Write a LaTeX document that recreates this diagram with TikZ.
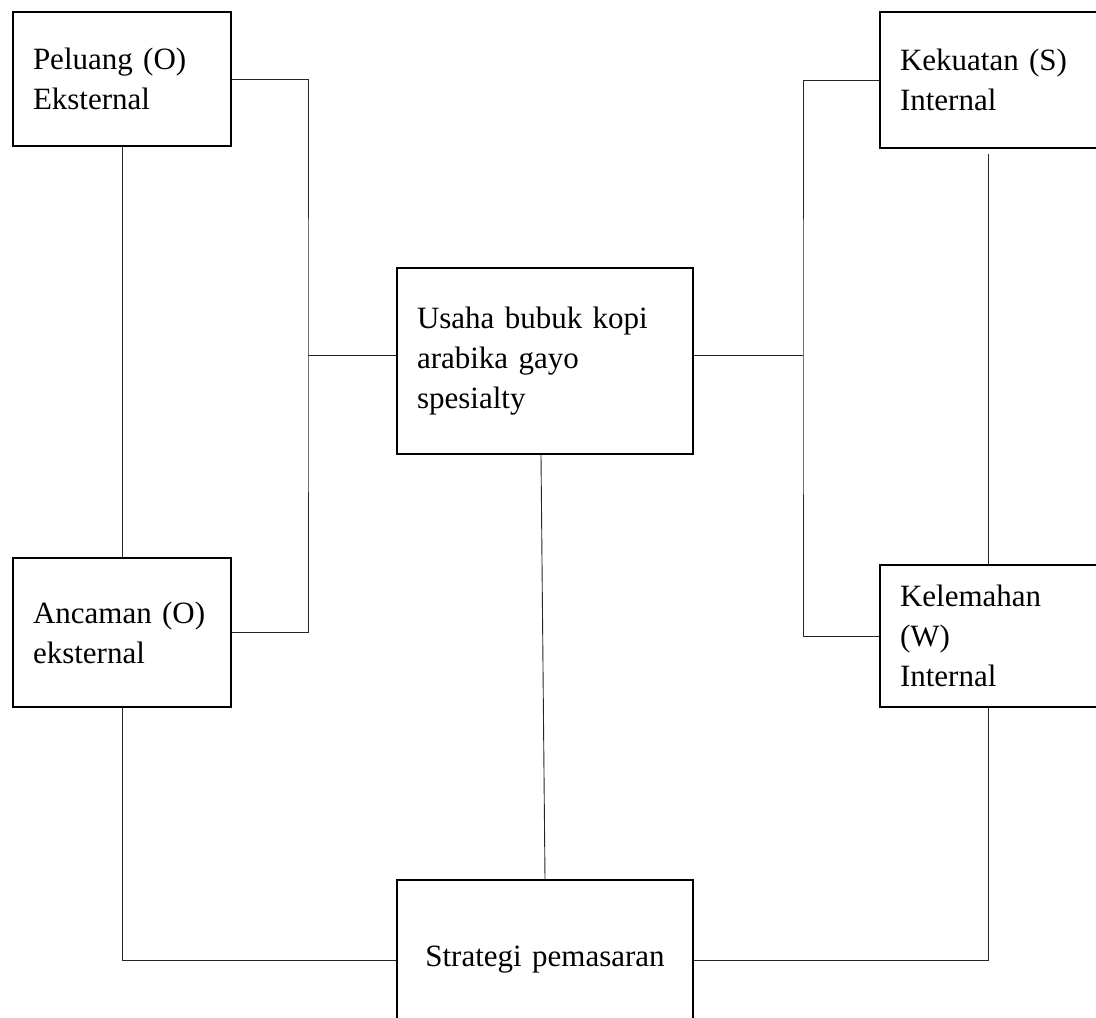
\documentclass[tikz,border=0pt]{standalone}
\usepackage{fontspec}
\setmainfont{Liberation Serif}
\usepackage{tikz}
\usetikzlibrary{positioning}
\tikzset{
  kotak/.style={draw, line width=1.8pt, rectangle, inner xsep=20pt, inner ysep=0pt,
    text width=#1, align=left, font=\fontsize{31}{40}\selectfont},
  garis/.style={draw, line width=0.9pt, black!85}
}

\begin{document}
\begin{tikzpicture}[x=1pt,y=-1pt]
        \useasboundingbox (0,0) rectangle (1096,1018);

        \node[kotak=178pt,minimum height=134pt] (P) at (122,79) {Peluang (O)\\Eksternal};
        \node[kotak=178pt,minimum height=149pt] (A) at (122,632.5) {Ancaman (O)\\eksternal};
        \node[kotak=256pt,minimum height=186pt] (U) at (545,361) {Usaha bubuk kopi\\arabika gayo\\spesialty};
        \node[kotak=177pt,minimum height=136pt] (K) at (988.5,80) {Kekuatan (S)\\Internal};
        \node[kotak=177pt,minimum height=142pt] (L) at (988.5,636) {Kelemahan\\(W)\\Internal};
        \node[kotak=256pt,minimum height=160pt,align=center] (S) at (545,960) {Strategi pemasaran};

        \coordinate (kiri) at (308,355);
        \coordinate (kanan) at (803,355);

        \draw[garis] (P.east) -| (kiri) |- (A.east);
        \draw[garis] (kiri) -- (kiri -| U.west);
        \draw[garis] (U.east |- kanan) -- (kanan);
        \draw[garis] (K.west) -| (kanan) |- (L.west);
        \draw[garis] (P) -- (A);
        \draw[garis] ([yshift=-5pt]K.south) -- (L);
        \draw[garis] (A.south) |- (S.west);
        \draw[garis] (L.south) |- (S.east);
        \draw[garis] ([xshift=-4pt]U.south) -- (S.north);
      \end{tikzpicture}
\end{document}
